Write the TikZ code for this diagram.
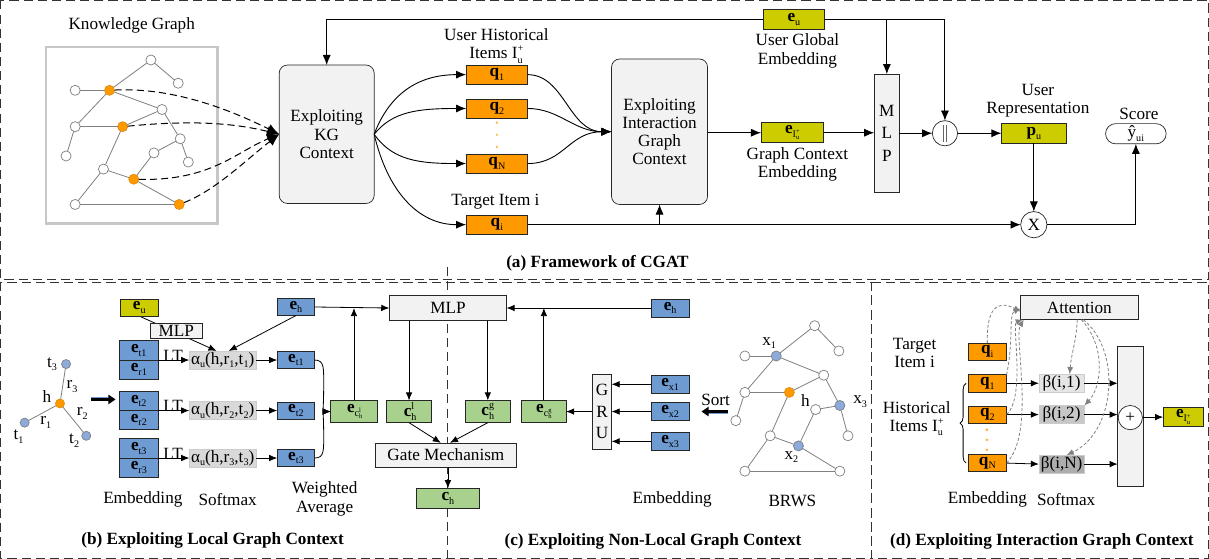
\documentclass[tikz,border=0pt]{standalone}
\usepackage{fontspec}
\setmainfont{Liberation Serif}
\usetikzlibrary{arrows.meta,decorations.pathreplacing,backgrounds}
\definecolor{qorange}{RGB}{255,153,0}
\definecolor{olive}{RGB}{204,204,0}
\definecolor{eblue}{RGB}{110,155,210}
\definecolor{cgreen}{RGB}{169,209,142}
\definecolor{lgray}{RGB}{242,242,242}
\definecolor{nblue}{RGB}{140,170,220}
\newcommand\mainfs{\fontsize{17}{18}\selectfont}
\newcommand\subsup[2]{\rlap{\raisebox{-0.55ex}{\fontsize{10}{10}\selectfont #1}}\raisebox{0.85ex}{\fontsize{10}{10}\selectfont #2}}
\newcommand\subsupS[2]{\rlap{\raisebox{-0.5ex}{\fontsize{6.5}{6.5}\selectfont #1}}\raisebox{0.8ex}{\fontsize{6.5}{6.5}\selectfont #2}}
\newcommand\sbx[1]{\raisebox{-0.45ex}{\fontsize{10}{10}\selectfont #1}}
\begin{document}
\begin{tikzpicture}[x=1pt,y=-1pt,
 every node/.style={font=\mainfs, inner sep=0pt, outer sep=0pt},
 dframe/.style={dash pattern=on 9pt off 5pt, line width=0.8pt, black!80},
 bx/.style={draw=black!85, line width=0.7pt},
 ob/.style={bx, fill=qorange, minimum width=61pt, minimum height=19pt},
 yb/.style={bx, fill=olive},
 bb/.style={bx, fill=eblue, minimum width=37pt, minimum height=18pt},
 gb/.style={bx, fill=cgreen, minimum width=45pt, minimum height=22pt},
 grb/.style={bx, fill=lgray},
 ctx/.style={bx, fill=lgray, rounded corners=8pt, align=center},
 arr/.style={-{Latex[length=10pt,width=8pt]}, line width=0.9pt},
 sarr/.style={-{Latex[length=8pt,width=6.5pt]}, line width=0.8pt},
 wn/.style={circle, draw=black!50, fill=white, minimum size=10pt, line width=0.7pt},
 onode/.style={circle, draw=qorange!85!black, fill=qorange, minimum size=10pt, line width=0.5pt},
 bn/.style={circle, draw=black!50, fill=nblue, minimum size=10pt, line width=0.7pt},
 ge/.style={black!50, line width=0.8pt},
 kgd/.style={dash pattern=on 7pt off 4pt, line width=1pt, -{Latex[length=12pt,width=10pt]}},
 attd/.style={black!50, dash pattern=on 3pt off 2pt, line width=0.8pt, -{Latex[length=7pt,width=6pt]}},
 capt/.style={font=\mainfs\bfseries},
 alb/.style={fill=black!15, draw=black!20, line width=0.5pt, minimum width=66pt, minimum height=18pt}
]
% frames
\draw[dframe] (7,2) rectangle (1203,278);
\draw[dframe] (7,281) rectangle (869,554);
\draw[dframe] (869,281) rectangle (1203,554);
\draw[dframe] (449,266) -- (449,554);

% ---------- (a) ----------
\node (kgt) at (137,27) {Knowledge Graph};
\node[draw=black!22, line width=2.5pt, fill=white, minimum width=170pt, minimum height=175pt] (kgbox) at (137,135.5) {};
\foreach \n/\x/\y in {n1/156/61, n2/183/84, n3/81/91, n4/167/110, n5/81/127, n6/72/156, n7/185/139, n8/159/153, n9/193/162, n10/109/169, n11/81/204}
  \node[wn] (\n) at (\x,\y) {};
\foreach \n/\x/\y in {o1/115/91, o2/128/127, o3/139/179, o4/184/204}
  \node[onode] (\n) at (\x,\y) {};
\foreach \a/\b in {n1/n2, n1/o1, n3/o1, o1/n4, o1/n5, n5/o2, n5/n6, o2/n4, n4/n7, n7/n9, n7/n8, n8/o3, o2/n10, n10/o3, o3/o4, n10/n11, n11/o4}
  \draw[ge] (\a) -- (\b);

\node[ctx, minimum width=94pt, minimum height=137pt] (kgc) at (330,134.5) {Exploiting\\KG\\Context};
\draw[kgd] (o1) .. controls (175,88) and (230,108) .. (kgc.west);
\draw[kgd] (o2) .. controls (200,120) and (240,124) .. (kgc.west);
\draw[kgd] (o3) .. controls (215,181) and (240,152) .. (kgc.west);
\draw[kgd] (o4) .. controls (220,190) and (250,160) .. (kgc.west);

\node[ob] (q1) at (498.5,75.5) {\textbf{q}\sbx{1}};
\node[ob] (q2) at (498.5,109) {\textbf{q}\sbx{2}};
\node[ob] (qN) at (498.5,163.5) {\textbf{q}\sbx{N}};
\node[ob] (qi) at (498.5,224) {\textbf{q}\sbx{i}};
\foreach \y in {123,135,147} \fill[qorange!70] (498.5,\y) circle (1.3pt);
\node[align=center] (uhi) at (498,47) {User Historical\\Items I\subsup{u}{+}};
\node (tit) at (497,201) {Target Item i};

\draw[arr] (kgc.east) .. controls (392,95) and (420,75.5) .. (q1.west);
\draw[arr] (kgc.east) .. controls (395,112) and (420,109) .. (q2.west);
\draw[arr] (kgc.east) .. controls (395,160) and (420,163.5) .. (qN.west);
\draw[arr] (kgc.east) .. controls (390,190) and (420,224) .. (qi.west);

\node[ctx, minimum width=95pt, minimum height=144pt] (ig) at (659.5,132) {Exploiting\\Interaction\\Graph\\Context};
\draw[arr] (q1.east) .. controls (565,75.5) and (570,132) .. (ig.west);
\draw[arr] (q2.east) .. controls (560,109) and (575,132) .. (ig.west);
\draw[arr] (qN.east) .. controls (565,163.5) and (570,132) .. (ig.west);

\node[yb, minimum width=61pt, minimum height=20pt] (eu) at (792.5,21) {\textbf{e}\sbx{u}};
\node[align=center] (ugl) at (796,52) {User Global\\Embedding};
\node[yb, minimum width=62pt, minimum height=20pt] (eI) at (791,133) {\textbf{e}\raisebox{-0.5ex}{\fontsize{10}{10}\selectfont I\subsupS{u}{+}}};
\node[align=center] (gcl) at (796,164) {Graph Context\\Embedding};
\node[grb, minimum width=25pt, minimum height=117pt, align=center] (mlpA) at (884.5,133.5) {M\\[4pt]L\\[4pt]P};
\node[circle, bx, fill=white, minimum size=25pt] (cat) at (942,133.5) {\color{black!60}\rule[-0.25ex]{0.6pt}{2.1ex}\hspace{2pt}\rule[-0.25ex]{0.6pt}{2.1ex}};
\node[yb, minimum width=64pt, minimum height=20pt] (pu) at (1030,133.5) {\textbf{p}\sbx{u}};
\node[align=center] (url) at (1034,101.5) {User\\Representation};
\node[circle, bx, fill=white, minimum size=26pt] (X) at (1030,224) {X};
\node[bx, rounded corners=10pt, minimum width=60pt, minimum height=20pt] (score) at (1131,134) {ŷ\sbx{ui}};
\node (scl) at (1134,114) {Score};
\node[capt] (capa) at (598,262) {(a) Framework of CGAT};

\draw[arr] (eu.west) -| (kgc.north);
\draw[arr] (eu.east) -| (cat.north);
\draw[arr] (mlpA.north |- eu.east) -- (mlpA.north);
\draw[arr] (qi.east) -- (X.west);
\draw[arr] (ig.south |- qi.east) -- (ig.south);
\draw[arr] (ig.east |- eI.west) -- (eI.west);
\draw[arr] (eI.east) -- (mlpA.west |- eI.east);
\draw[arr] (mlpA.east) -- (cat.west);
\draw[arr] (cat.east) -- (pu.west);
\draw[arr] (pu.south) -- (X.north);
\draw[arr] (X.east) -| (score.south);

% ---------- (b) ----------
\node[onode, minimum size=9pt] (sh) at (66,401) {};
\node[bn, minimum size=9pt] (st3) at (72,362) {};
\node[bn, minimum size=9pt] (st1) at (31,420) {};
\node[bn, minimum size=9pt] (st2) at (92,433) {};
\draw[ge] (sh) -- (st3); \draw[ge] (sh) -- (st1); \draw[ge] (sh) -- (st2);
\node (lt3) at (58,362) {t\sbx{3}};
\node (lr3) at (78,384) {r\sbx{3}};
\node (lh) at (53,394) {h};
\node (lr2) at (88,411) {r\sbx{2}};
\node (lr1) at (52,420) {r\sbx{1}};
\node (lt1) at (25,434) {t\sbx{1}};
\node (lt2) at (80,438) {t\sbx{2}};
\coordinate (ta1) at (97,397); \coordinate (ta2) at (121,397);
\draw[eblue, line width=4pt] (ta1) -- ([xshift=-4pt]ta2);
\draw[line width=2.2pt, -{Triangle[length=7pt,width=9pt]}] (ta1) -- (ta2);

\node[yb, minimum width=37pt, minimum height=17pt] (eub) at (144.5,306) {\textbf{e}\sbx{u}};
\node[bb, minimum height=17pt] (ehb) at (299.5,305.5) {\textbf{e}\sbx{h}};
\node[grb, minimum width=116pt, minimum height=25pt] (mlpB) at (450,306.5) {MLP};
\node[bb] (ehc) at (670,306.5) {\textbf{e}\sbx{h}};

\foreach \k/\y in {1/358, 2/408, 3/455}{
  \node[bb, minimum width=38pt, minimum height=19pt] (et\k) at (144,\y-9.5) {\textbf{e}\sbx{t\k}};
  \node[bb, minimum width=38pt, minimum height=19pt] (er\k) at (144,\y+9.5) {\textbf{e}\sbx{r\k}};
  \node[alb] (a\k) at (227,\y) {α\sbx{u}(h,r\sbx{\k},t\sbx{\k})};
  \node[bb, minimum height=17pt] (ep\k) at (299.5,\y) {\textbf{e}\sbx{t\k}};
  \node[anchor=south] (lt\k) at (178,\y+1) {LT};
  \draw[sarr] (et\k.south east) -- (a\k.west);
  \draw[sarr] (a\k.east) -- (ep\k.west);
}
\node[grb, fill=white!95!black, minimum width=52pt, minimum height=15pt] (mlps) at (181,329.5) {MLP};
\begin{scope}[on background layer]
\draw[sarr] (eub.south) -- ([xshift=-6pt]a1.north);
\end{scope}
\draw[sarr] (ehb.south) -- ([xshift=6pt]a1.north);
\draw[sarr] (ehb.east) -- (mlpB.west);

\node[gb, minimum width=46pt] (ecl) at (357,409) {\textbf{e}\raisebox{-0.5ex}{\fontsize{10}{10}\selectfont c\subsupS{h}{l}}};
\draw[sarr] (ep1.east) .. controls (328,358) and (327,366) .. (327,385) .. controls (327,403) and (326,409) .. (ecl.west);
\draw[sarr] (ep3.east) .. controls (328,455) and (327,447) .. (327,430) .. controls (327,414) and (326,409) .. (ecl.west);
\draw[sarr] (ecl.north) -- (ecl.north |- mlpB.west);

\node[gb] (chl) at (411.5,409) {\textbf{c}\subsup{h}{l}};
\node[gb] (chg) at (489.5,409) {\textbf{c}\subsup{h}{g}};
\node[gb, minimum width=44pt] (ecg) at (545,409) {\textbf{e}\raisebox{-0.5ex}{\fontsize{10}{10}\selectfont c\subsupS{h}{g}}};
\draw[sarr] (chl.north |- mlpB.south) -- (chl.north);
\draw[sarr] (chg.north |- mlpB.south) -- (chg.north);
\draw[sarr] (ecg.north) -- (ecg.north |- mlpB.east);
\draw[sarr] (ehc.west) -- (mlpB.east);

\node[grb, minimum width=139pt, minimum height=24pt] (gate) at (448,452) {Gate Mechanism};
\node[gb, minimum width=63pt, minimum height=20pt] (ch) at (450,495) {\textbf{c}\sbx{h}};
\draw[sarr] (chl.south) -- ([xshift=-5pt]gate.north);
\draw[sarr] (chg.south) -- ([xshift=4pt]gate.north);
\draw[sarr] (gate.south -| ch.north) -- (ch.north);

\node (lemb) at (148,496) {Embedding};
\node (lsof) at (232,496) {Softmax};
\node[align=center] (lwa) at (328,495.5) {Weighted\\Average};
\node[capt] (capb) at (217,537) {(b) Exploiting Local Graph Context};

% ---------- (c) ----------
\node[grb, minimum width=19pt, minimum height=74pt, align=center] (gru) at (602.5,409) {G\\[3pt]R\\[3pt]U};
\node[bb] (ex1) at (670,382) {\textbf{e}\sbx{x1}};
\node[bb] (ex2) at (670,409) {\textbf{e}\sbx{x2}};
\node[bb] (ex3) at (670,438.5) {\textbf{e}\sbx{x3}};
\draw[sarr] (ex1.west) -- (gru.east |- ex1.west);
\draw[sarr] (ex2.west) -- (gru.east |- ex2.west);
\draw[sarr] (ex3.west) -- (gru.east |- ex3.west);
\draw[sarr] (gru.west) -- (ecg.east);
\node (sortl) at (715,397) {Sort};
\coordinate (sa1) at (727,409); \coordinate (sa2) at (701,409);
\draw[eblue, line width=4pt] (sa1) -- ([xshift=4pt]sa2);
\draw[line width=2.2pt, -{Triangle[length=7pt,width=9pt]}] (sa1) -- (sa2);

\foreach \n/\x/\y in {ba/813/324, bb/837/349, bc/744/354, bd/822/373, be/744/390, bf/735/418, bg/814/407, bi/846/433, bj/769/433, bk/744/468, bl/838/468}
  \node[wn] (\n) at (\x,\y) {};
\foreach \n/\x/\y in {bx1/775/354, bx3/838/403, bx2/797/443}
  \node[bn] (\n) at (\x,\y) {};
\node[onode] (bh) at (788,390) {};
\foreach \a/\b in {ba/bb, ba/bx1, bc/bx1, bx1/bd, bx1/be, be/bh, be/bf, bh/bd, bd/bx3, bx3/bi, bx3/bg, bg/bx2, bh/bj, bj/bx2, bx2/bl, bj/bk, bk/bl}
  \draw[ge] (\a) -- (\b);
\node (lx1) at (768,341) {x\sbx{1}};
\node (lhh) at (804,398) {h};
\node (lx3) at (858,399) {x\sbx{3}};
\node (lx2) at (790,454) {x\sbx{2}};
\node (lemc) at (672,496) {Embedding};
\node (lbrws) at (791,497) {BRWS};
\node[capt] (capc) at (653,538) {(c) Exploiting Non-Local Graph Context};

% ---------- (d) ----------
\node[grb, minimum width=116pt, minimum height=24pt] (att) at (1075,306) {Attention};
\node[ob, minimum width=38pt, minimum height=17pt] (qid) at (984,349.5) {\textbf{q}\sbx{i}};
\node[ob, minimum width=38pt, minimum height=17pt] (q1d) at (984,381) {\textbf{q}\sbx{1}};
\node[ob, minimum width=38pt, minimum height=17pt] (q2d) at (984,412) {\textbf{q}\sbx{2}};
\node[ob, minimum width=38pt, minimum height=17pt] (qNd) at (984,460) {\textbf{q}\sbx{N}};
\foreach \y in {427,437,447} \fill[qorange!80] (983.5,\y) circle (1.4pt);
\node[alb, fill=black!10, minimum width=45pt] (b1) at (1057.5,381) {β(i,1)};
\node[alb, fill=black!22, minimum width=45pt] (b2) at (1057.5,412) {β(i,2)};
\node[alb, fill=black!32, minimum width=45pt] (bN) at (1057.5,461) {β(i,N)};
\node[grb, minimum width=25pt, minimum height=139pt] (bigb) at (1125.5,413.5) {};
\node[circle, bx, fill=white, minimum size=24pt] (plus) at (1125.5,415) {+};
\node[yb, minimum width=40pt, minimum height=19pt] (eId) at (1178,414.5) {\textbf{e}\raisebox{-0.5ex}{\fontsize{10}{10}\selectfont I\subsupS{u}{+}}};
\draw[sarr] (q1d.east) -- (b1.west);
\draw[sarr] (q2d.east) -- (b2.west);
\draw[sarr] (qNd.east) -- (bN.west);
\draw[sarr] (b1.east) -- (bigb.west |- b1.east);
\draw[sarr] (b2.east) -- (bigb.west |- b2.east);
\draw[sarr] (bN.east) -- (bigb.west |- bN.east);
\draw[sarr] (bigb.east |- eId.west) -- (eId.west);
\draw[decorate, decoration={brace, amplitude=6pt}, line width=0.8pt] ([xshift=-2pt]qNd.west) -- ([xshift=-2pt]q1d.west);
\draw[attd] (qid.north) .. controls (983,310) and (992,297) .. ([yshift=-4pt]att.west);
\draw[attd] (q1d.north east) .. controls (1010,340) and (1005,312) .. ([yshift=-1pt]att.west);
\draw[attd] (q2d.east) .. controls (1022,395) and (1008,322) .. ([xshift=2pt]att.south west);
\draw[attd] (qNd.east) .. controls (1032,430) and (1010,335) .. ([xshift=3pt]att.south west);
\draw[attd] ([xshift=-2pt]att.south) .. controls (1072,340) and (1067,352) .. ([xshift=8pt]b1.north);
\draw[attd] ([xshift=2pt]att.south) .. controls (1102,345) and (1097,385) .. (b2.north east);
\draw[attd] ([xshift=4pt]att.south) .. controls (1118,350) and (1110,430) .. ([xshift=5pt]bN.north);
\node[align=center] (ltid) at (912,351) {Target\\Item i};
\node[align=center] (lhid) at (914,416) {Historical\\Items I\subsup{u}{+}};
\node (lemd) at (984,496) {Embedding};
\node (lsod) at (1062,496) {Softmax};
\node[capt] (capd) at (1038,538) {(d) Exploiting Interaction Graph Context};
\end{tikzpicture}
\end{document}
